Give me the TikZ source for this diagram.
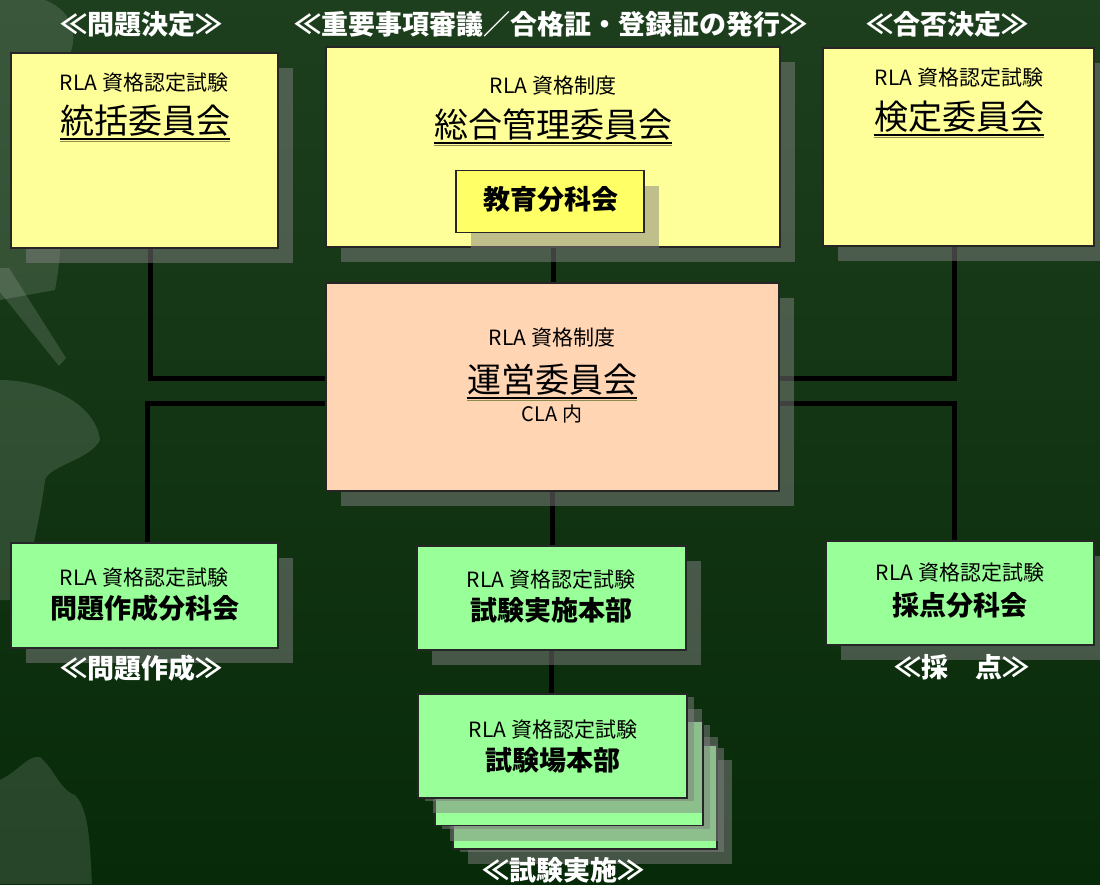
\documentclass[tikz,border=0pt]{standalone}
\usepackage{fontspec}
\setmainfont{Noto Sans CJK JP}
\usetikzlibrary{shadows,positioning}
\definecolor{bgtop}{HTML}{1E3F1E}
\definecolor{bgbot}{HTML}{072A09}
\definecolor{boxyellow}{HTML}{FFFF99}
\definecolor{subyellow}{HTML}{FFFF66}
\definecolor{boxpeach}{HTML}{FFD5B4}
\definecolor{boxgreen}{HTML}{99FF99}
\definecolor{ulolive}{HTML}{8C8C50}
\pgfdeclarelayer{background}
\pgfsetlayers{background,main}
\tikzset{
  box/.style={draw=black!85, line width=1.2pt, inner sep=0pt, outer sep=0pt,
    drop shadow={shadow xshift=15pt, shadow yshift=-15pt}},
  stackbox/.style={box, fill=boxgreen, minimum width=268pt, minimum height=104pt,
    drop shadow={shadow xshift=7pt, shadow yshift=-3pt}},
  link/.style={line width=5pt, black},
  leaf/.style={fill=white, fill opacity=0.13},
  orgtext/.style={font=\fontsize{21}{24}\selectfont, inner sep=0pt},
  bigname/.style={font=\fontsize{34}{38}\selectfont, inner sep=0pt},
  subname/.style={font=\fontsize{27}{30}\selectfont\bfseries, inner sep=0pt},
  caption/.style={font=\fontsize{27}{30}\selectfont\bfseries, text=white, inner sep=0pt},
}
\begin{document}
\begin{tikzpicture}[x=1pt, y=-1pt]
  \useasboundingbox (0,0) rectangle (1100,884);
  \begin{pgfonlayer}{background}
    \shade[top color=bgtop, bottom color=bgbot] (0,0) rectangle (1100,884);
    % leaf pattern on the left
    \fill[leaf] (0,0) -- (45,0) .. controls (75,12) and (82,40) .. (62,70) .. controls (48,120) and (72,200) .. (55,290) -- (0,300) -- cycle;
    \fill[leaf] (0,268) -- (9,268) -- (66,358) -- (59,366) -- (0,292) -- cycle;
    \fill[leaf] (0,380) .. controls (40,380) and (95,400) .. (100,440) .. controls (90,460) and (50,465) .. (45,480) .. controls (40,520) and (30,560) .. (20,600) -- (0,600) -- cycle;
    \fill[leaf] (0,780) .. controls (20,770) and (28,755) .. (40,757) .. controls (55,770) and (60,790) .. (75,795) .. controls (90,810) and (90,850) .. (92,884) -- (0,884) -- cycle;
  \end{pgfonlayer}

  \node[caption] (capkettei) at (141,24) {≪問題決定≫};
  \node[caption] (capshingi) at (551,24) {≪重要事項審議／合格証・登録証の発行≫};
  \node[caption] (capgohi) at (947,24) {≪合否決定≫};

  \node[box, fill=boxyellow, minimum width=267pt, minimum height=195pt] (tokatsu) at (144.5,150.5) {};
  \node[orgtext] (tokatsuorg) at (144,83) {RLA 資格認定試験};
  \node[bigname] (tokatsuname) at (145,121) {統括委員会};

  \node[box, fill=boxyellow, minimum width=454pt, minimum height=200pt] (sogo) at (553,147) {};
  \node[orgtext] (sogoorg) at (553,86) {RLA 資格制度};
  \node[bigname] (sogoname) at (553,125) {総合管理委員会};
  \node[box, fill=subyellow, minimum width=188pt, minimum height=62pt] (kyoiku) at (550,201.5) {};
  \node[subname] (kyoikuname) at (551,199) {教育分科会};

  \node[box, fill=boxyellow, minimum width=271pt, minimum height=198pt] (kentei) at (958.5,147) {};
  \node[orgtext] (kenteiorg) at (959,78) {RLA 資格認定試験};
  \node[bigname] (kenteiname) at (959,117) {検定委員会};

  \node[box, fill=boxpeach, minimum width=453pt, minimum height=208pt] (unei) at (552.5,387) {};
  \node[orgtext] (uneiorg) at (552,338) {RLA 資格制度};
  \node[bigname] (uneiname) at (552,380) {運営委員会};
  \node[orgtext, font=\fontsize{20}{24}\selectfont] (uneicla) at (552,414) {CLA 内};

  \node[box, fill=boxgreen, minimum width=267pt, minimum height=105pt] (mondai) at (144.5,595.5) {};
  \node[orgtext] (mondaiorg) at (144,578) {RLA 資格認定試験};
  \node[subname] (mondainame) at (145,608) {問題作成分科会};
  \node[caption] (capsakusei) at (141,668) {≪問題作成≫};

  \node[box, fill=boxgreen, minimum width=269pt, minimum height=104pt] (jisshi) at (551.5,598) {};
  \node[orgtext] (jisshiorg) at (551,580) {RLA 資格認定試験};
  \node[subname] (jisshiname) at (551,610) {試験実施本部};

  \node[box, fill=boxgreen, minimum width=268pt, minimum height=104pt] (saiten) at (960,593) {};
  \node[orgtext] (saitenorg) at (960,573) {RLA 資格認定試験};
  \node[subname] (saitenname) at (960,605) {採点分科会};
  \node[caption] (capsaiten) at (962,667) {≪採　点≫};

  \node[stackbox, minimum width=264pt] (shikenjothird) at (585,797) {};
  \node[stackbox] (shikenjosecond) at (569,773.5) {};
  \node[stackbox, minimum width=269pt] (shikenjo) at (552.5,746) {};
  \node[orgtext] (shikenjoorg) at (553,730) {RLA 資格認定試験};
  \node[subname] (shikenjoname) at (553,760) {試験場本部};
  \node[caption] (capjisshi) at (563,870) {≪試験実施≫};

  \foreach \n in {tokatsuname, sogoname, kenteiname, uneiname} {
    \draw[line width=1.6pt] ([yshift=-5pt]\n.base west) -- ([yshift=-5pt]\n.base east);
    \draw[ulolive, line width=1.6pt] ([yshift=-7.5pt]\n.base west) -- ([yshift=-7.5pt]\n.base east);
  }

  \begin{pgfonlayer}{background}
    \draw[link] ([xshift=5.5pt]tokatsu.south) |- ([yshift=9pt]unei.west);
    \draw[link] ([yshift=-16pt]unei.west) -| ([xshift=2.5pt]mondai.north);
    \draw[link] (sogo.south) -- (sogo.south |- unei.north);
    \draw[link] ([xshift=-4.5pt]kentei.south) |- ([yshift=9pt]unei.east);
    \draw[link] ([yshift=-16pt]unei.east) -| ([xshift=-6pt]saiten.north);
    \draw[link] (unei.south) -- (unei.south |- jisshi.north);
    \draw[link] (jisshi.south) -- (jisshi.south |- shikenjo.north);
  \end{pgfonlayer}
\end{tikzpicture}
\end{document}
